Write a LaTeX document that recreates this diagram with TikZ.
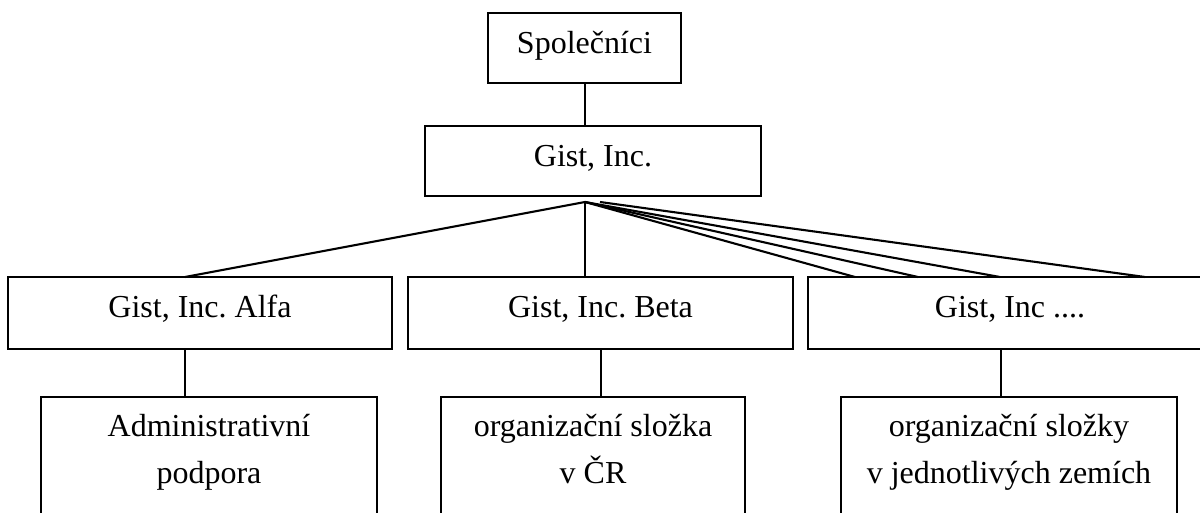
\documentclass[tikz,border=0pt]{standalone}
\usepackage{fontspec}
\setmainfont{Liberation Serif}
\frenchspacing
\begin{document}
\begin{tikzpicture}[x=1pt,y=-1pt,line width=2.1pt,
  txt/.style={font=\fontsize{32}{48}\selectfont},
  box/.style={draw, rectangle, inner sep=0pt, outer sep=0pt, txt, text height=22pt, text depth=10pt},
  midbox/.style={box, minimum height=72pt, text depth=14pt},
  openbox/.style={rectangle, inner sep=0pt, outer sep=0pt, minimum height=130pt, anchor=north},
  lbl/.style={anchor=base, inner sep=0pt, outer sep=0pt, txt},
  link/.style={draw, line width=2.1pt}]
\useasboundingbox (0,0) rectangle (1200,513);

% top levels
\node[box, minimum width=193pt, minimum height=70pt] (sp) at (584.5,48) {Společníci};
\node[box, minimum width=336pt, minimum height=70pt] (gi) at (593,161) {Gist, Inc.};

% second level
\node[midbox, minimum width=384pt] (alfa) at (200,313) {Gist, Inc. Alfa};
\node[midbox, minimum width=385pt] (beta) at (600.5,313) {Gist, Inc. Beta};
\node[midbox, minimum width=404pt] (dots) at (1010,313) {Gist, Inc ....};

% third level (open at bottom)
\node[openbox, minimum width=336pt] (adm) at (209,397) {};
\node[openbox, minimum width=304pt] (cr) at (593,397) {};
\node[openbox, minimum width=336pt] (zem) at (1009,397) {};
\draw (adm.south west) -- (adm.north west) -- (adm.north east) -- (adm.south east);
\draw (cr.south west) -- (cr.north west) -- (cr.north east) -- (cr.south east);
\draw (zem.south west) -- (zem.north west) -- (zem.north east) -- (zem.south east);

\node[lbl] (adm1) at (209,436) {Administrativní};
\node[lbl] (adm2) at (209,483) {podpora};
\node[lbl] (cr1) at (593,436) {organizační složka};
\node[lbl] (cr2) at (593,483) {v ČR};
\node[lbl] (zem1) at (1009,436) {organizační složky};
\node[lbl] (zem2) at (1009,483) {v jednotlivých zemích};

% connectors
\coordinate (apex) at (585,202);
\coordinate (apex2) at (600,202);
\draw[link] (sp.south -| apex) -- (gi.north -| apex);
\draw[link] (apex) -- (alfa.north -| 185,0);
\draw[link] (apex) -- (beta.north -| apex);
\draw[link] (apex) -- (dots.north -| 855,0);
\draw[link] (apex) -- (dots.north -| 918,0);
\draw[link] (apex) -- (dots.north -| 1000,0);
\draw[link] (apex2) -- (dots.north -| 1145,0);

\draw[link] (alfa.south -| 185,0) -- (adm.north -| 185,0);
\draw[link] (beta.south -| 601,0) -- (cr.north -| 601,0);
\draw[link] (dots.south -| 1001,0) -- (zem.north -| 1001,0);
\end{tikzpicture}
\end{document}
